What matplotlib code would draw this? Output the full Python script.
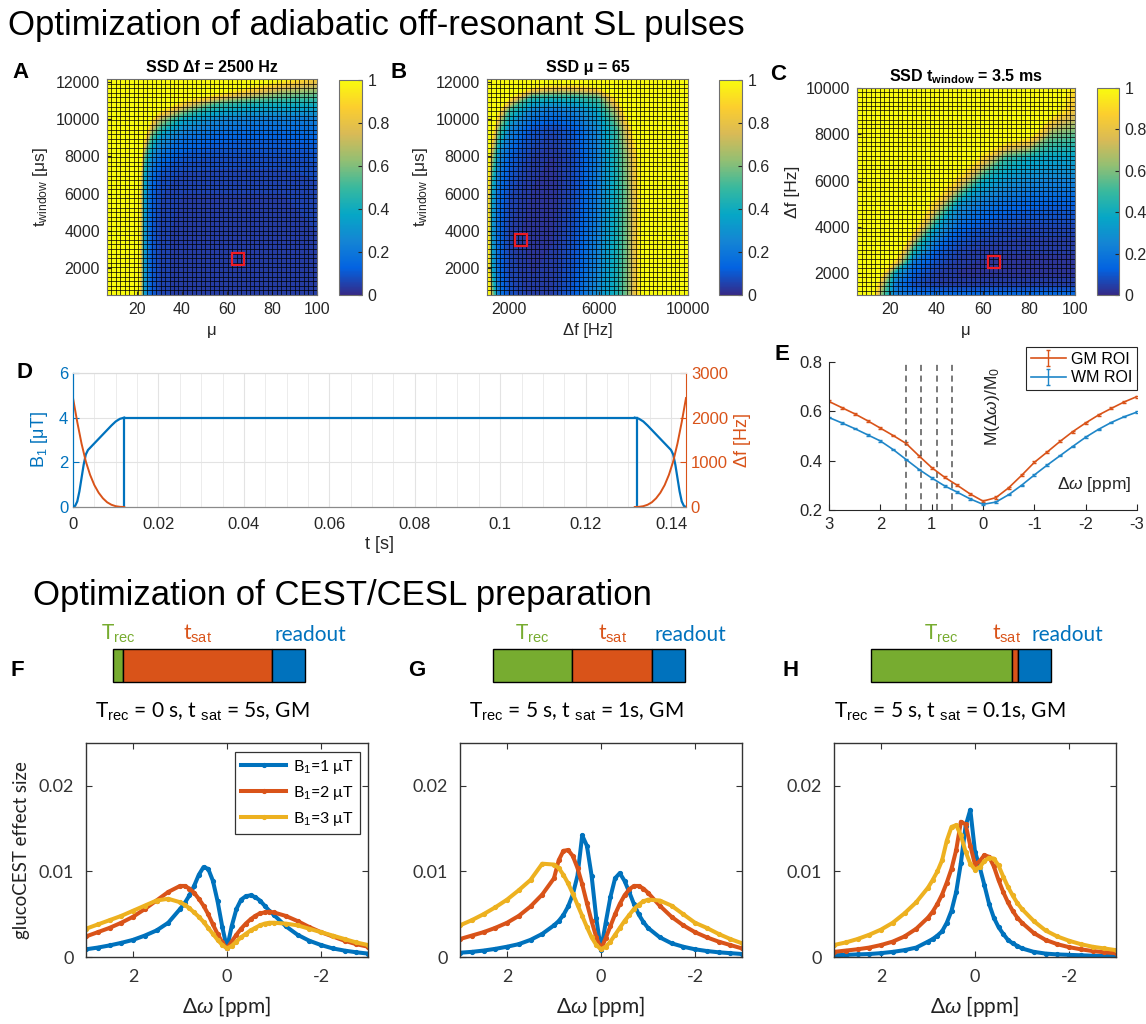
import numpy as np
import matplotlib
matplotlib.use('Agg')
import matplotlib.pyplot as plt
from matplotlib.colors import LinearSegmentedColormap, Normalize
from matplotlib.cm import ScalarMappable

W, H = 1146, 1024
plt.rcParams['font.family'] = ['Liberation Sans', 'DejaVu Sans']
plt.rcParams['mathtext.fontset'] = 'custom'
plt.rcParams['mathtext.rm'] = 'Liberation Sans'
plt.rcParams['mathtext.it'] = 'Liberation Sans:italic'
plt.rcParams['mathtext.bf'] = 'Liberation Sans:bold'
plt.rcParams['mathtext.fallback'] = 'cm'

# ================= DATA =================
# Panel A: SSD over (mu, t_window) at delta f = 2500 Hz (coarse samples read from the map)
a_mu = [6.7, 20, 21.5, 23, 26, 30, 40, 55, 70, 85, 100]
a_tw = [550, 2000, 4000, 6000, 7000, 8000, 9000, 10000, 10800, 11400, 12150]
a_ssd = [
    [1.2, 1.2, 0.85, 0.35, 0.12, 0.06, 0.04, 0.04, 0.04, 0.04, 0.05],
    [1.2, 1.2, 0.85, 0.35, 0.12, 0.06, 0.04, 0.04, 0.04, 0.04, 0.05],
    [1.2, 1.2, 0.85, 0.35, 0.12, 0.06, 0.04, 0.04, 0.04, 0.04, 0.05],
    [1.2, 1.2, 0.85, 0.38, 0.14, 0.07, 0.05, 0.05, 0.05, 0.05, 0.06],
    [1.2, 1.2, 0.90, 0.42, 0.18, 0.09, 0.06, 0.06, 0.06, 0.06, 0.07],
    [1.2, 1.2, 1.10, 0.60, 0.30, 0.17, 0.10, 0.08, 0.08, 0.08, 0.09],
    [1.2, 1.2, 1.20, 1.00, 0.55, 0.32, 0.18, 0.13, 0.12, 0.12, 0.13],
    [1.2, 1.2, 1.20, 1.20, 1.00, 0.70, 0.38, 0.26, 0.22, 0.21, 0.22],
    [1.2, 1.2, 1.20, 1.20, 1.20, 1.20, 0.85, 0.50, 0.42, 0.40, 0.40],
    [1.2, 1.2, 1.20, 1.20, 1.20, 1.20, 1.20, 1.00, 0.78, 0.62, 0.58],
    [1.2, 1.2, 1.20, 1.20, 1.20, 1.20, 1.20, 1.20, 1.20, 1.00, 0.85],
]
a_opt = (65, 2500)

# Panel B: SSD over (delta f, t_window) at mu = 65
b_df = [1000, 1200, 1500, 2000, 3000, 4000, 5000, 6000, 6800, 7300, 7700, 8200, 10000]
b_tw = [550, 2000, 4000, 6000, 8000, 9500, 10500, 11200, 11700, 12150]
b_ssd = [
    [1.2, 0.70, 0.20, 0.08, 0.04, 0.05, 0.12, 0.28, 0.42, 0.60, 0.85, 1.2, 1.2],
    [1.2, 0.40, 0.15, 0.06, 0.03, 0.04, 0.10, 0.25, 0.42, 0.60, 0.85, 1.2, 1.2],
    [1.2, 0.35, 0.14, 0.05, 0.02, 0.03, 0.09, 0.23, 0.42, 0.60, 0.85, 1.2, 1.2],
    [1.1, 0.40, 0.16, 0.07, 0.03, 0.02, 0.08, 0.22, 0.42, 0.60, 0.85, 1.2, 1.2],
    [1.2, 0.70, 0.28, 0.12, 0.05, 0.03, 0.08, 0.22, 0.45, 0.65, 0.90, 1.2, 1.2],
    [1.2, 1.10, 0.60, 0.25, 0.10, 0.07, 0.12, 0.27, 0.50, 0.80, 1.10, 1.2, 1.2],
    [1.2, 1.20, 1.00, 0.50, 0.25, 0.20, 0.25, 0.38, 0.70, 1.10, 1.20, 1.2, 1.2],
    [1.2, 1.20, 1.20, 1.00, 0.48, 0.45, 0.47, 0.55, 1.00, 1.20, 1.20, 1.2, 1.2],
    [1.2, 1.20, 1.20, 1.20, 0.95, 0.85, 0.85, 0.95, 1.20, 1.20, 1.20, 1.2, 1.2],
    [1.2, 1.20, 1.20, 1.20, 1.20, 1.20, 1.20, 1.20, 1.20, 1.20, 1.20, 1.2, 1.2],
]
b_opt = (2500, 3500)

# Panel C: SSD over (mu, delta f) at t_window = 3.5 ms
c_mu = [5.6, 12, 16, 22, 30, 40, 50, 60, 70, 80, 90, 100]
c_df = [1060, 1500, 2000, 2500, 3000, 4000, 5000, 6000, 7000, 8000, 9000, 10000]
c_ssd = [
    [1.2, 1.1, 0.60, 0.22, 0.16, 0.15, 0.15, 0.15, 0.15, 0.15, 0.15, 0.15],
    [1.2, 1.2, 0.75, 0.20, 0.08, 0.05, 0.04, 0.04, 0.04, 0.04, 0.04, 0.04],
    [1.2, 1.2, 1.00, 0.35, 0.12, 0.05, 0.03, 0.03, 0.03, 0.03, 0.03, 0.03],
    [1.2, 1.2, 1.20, 0.90, 0.20, 0.08, 0.04, 0.03, 0.03, 0.03, 0.03, 0.03],
    [1.2, 1.2, 1.20, 1.20, 0.45, 0.12, 0.06, 0.04, 0.035, 0.035, 0.035, 0.035],
    [1.2, 1.2, 1.20, 1.20, 1.05, 0.35, 0.14, 0.09, 0.07, 0.06, 0.06, 0.06],
    [1.2, 1.2, 1.20, 1.20, 1.20, 0.85, 0.30, 0.20, 0.15, 0.13, 0.12, 0.12],
    [1.2, 1.2, 1.20, 1.20, 1.20, 1.20, 0.85, 0.40, 0.30, 0.26, 0.24, 0.24],
    [1.2, 1.2, 1.20, 1.20, 1.20, 1.20, 1.20, 0.90, 0.50, 0.40, 0.36, 0.35],
    [1.2, 1.2, 1.20, 1.20, 1.20, 1.20, 1.20, 1.20, 1.20, 1.05, 0.60, 0.55],
    [1.2, 1.2, 1.20, 1.20, 1.20, 1.20, 1.20, 1.20, 1.20, 1.20, 1.05, 0.80],
    [1.2, 1.2, 1.20, 1.20, 1.20, 1.20, 1.20, 1.20, 1.20, 1.20, 1.20, 0.90],
]
c_opt = (65, 2500)

# Panel D: pulse shape (start ramp; the end ramp is its mirror image)
d_t_b1 = [0, 0.0005, 0.001, 0.0015, 0.002, 0.0025, 0.003, 0.0035, 0.004, 0.005,
          0.006, 0.007, 0.008, 0.009, 0.010, 0.011, 0.012]
d_b1 = [0, 0.05, 0.25, 0.7, 1.3, 1.9, 2.35, 2.55, 2.65, 2.85,
        3.05, 3.25, 3.45, 3.65, 3.83, 3.95, 4.0]
d_t_df = [0, 0.001, 0.002, 0.003, 0.004, 0.005, 0.006, 0.007, 0.008, 0.009, 0.010, 0.011, 0.012]
d_df = [2440, 1900, 1420, 1020, 720, 490, 320, 195, 105, 50, 18, 4, 0]
d_b1_plateau = 4.0
d_t_on, d_t_off, d_t_end = 0.012, 0.132, 0.1435

# Panel E: Z-spectra
e_dw = [3.0, 2.75, 2.5, 2.25, 2.0, 1.75, 1.5, 1.25, 1.0, 0.75, 0.5, 0.25, 0.0,
        -0.25, -0.5, -0.75, -1.0, -1.25, -1.5, -1.75, -2.0, -2.25, -2.5, -2.75, -3.0]
e_gm = [0.640, 0.615, 0.590, 0.562, 0.532, 0.502, 0.470, 0.420, 0.372, 0.333, 0.300, 0.265, 0.236,
        0.250, 0.290, 0.340, 0.393, 0.435, 0.478, 0.518, 0.553, 0.585, 0.612, 0.638, 0.660]
e_wm = [0.575, 0.553, 0.530, 0.505, 0.480, 0.445, 0.405, 0.365, 0.330, 0.298, 0.272, 0.245, 0.223,
        0.232, 0.262, 0.300, 0.342, 0.382, 0.420, 0.458, 0.495, 0.527, 0.555, 0.578, 0.597]
e_gm_err = [0.004, 0.004, 0.004, 0.004, 0.004, 0.004, 0.004, 0.004, 0.004, 0.004, 0.004, 0.004, 0.005,
            0.005, 0.004, 0.004, 0.004, 0.004, 0.004, 0.004, 0.004, 0.004, 0.004, 0.004, 0.004]
e_wm_err = [0.003, 0.003, 0.003, 0.003, 0.003, 0.003, 0.003, 0.003, 0.003, 0.003, 0.003, 0.003, 0.004,
            0.004, 0.003, 0.003, 0.003, 0.003, 0.003, 0.003, 0.003, 0.003, 0.003, 0.003, 0.003]
e_dashed = [1.5, 1.2, 0.9, 0.6]

# Panels F-H: glucoCEST effect size (values in units of 1e-3)
fh_dw = [3.0, 2.75, 2.5, 2.25, 2.0, 1.75, 1.5, 1.25, 1.0, 0.9, 0.8, 0.7, 0.6, 0.5, 0.4, 0.3, 0.2, 0.1, 0.0,
         -0.1, -0.2, -0.3, -0.4, -0.5, -0.6, -0.7, -0.8, -0.9, -1.0, -1.25, -1.5, -1.75, -2.0, -2.25, -2.5, -2.75, -3.0]
f_b1_1 = [0.9, 1.1, 1.35, 1.65, 2.0, 2.5, 3.1, 4.0, 5.6, 6.3, 7.2, 8.3, 9.6, 10.5, 10.3, 8.9, 6.5, 3.5, 1.0,
          3.6, 5.6, 6.7, 7.1, 7.2, 7.0, 6.6, 6.0, 5.4, 4.9, 3.6, 2.6, 1.9, 1.4, 1.0, 0.75, 0.55, 0.4]
f_b1_2 = [2.4, 2.9, 3.4, 4.0, 4.7, 5.6, 6.6, 7.6, 8.3, 8.3, 8.0, 7.5, 6.8, 6.0, 5.0, 3.8, 2.7, 1.7, 1.0,
          1.8, 2.6, 3.3, 3.9, 4.4, 4.8, 5.1, 5.2, 5.3, 5.2, 4.8, 4.2, 3.5, 2.9, 2.4, 1.9, 1.5, 1.2]
f_b1_3 = [3.3, 3.8, 4.3, 4.8, 5.4, 6.0, 6.6, 6.8, 6.4, 6.1, 5.7, 5.2, 4.7, 4.1, 3.4, 2.7, 2.0, 1.4, 1.0,
          1.3, 1.8, 2.3, 2.7, 3.1, 3.4, 3.7, 3.9, 4.0, 4.0, 3.9, 3.7, 3.3, 2.9, 2.5, 2.1, 1.7, 1.4]
g_b1_1 = [0.5, 0.6, 0.75, 0.95, 1.2, 1.5, 2.0, 2.7, 3.7, 4.2, 4.9, 5.9, 7.3, 9.5, 14.2, 13.0, 9.5, 4.5, 0.8,
          4.0, 7.0, 9.2, 9.8, 8.9, 7.6, 6.2, 5.0, 4.1, 3.4, 2.3, 1.6, 1.2, 0.9, 0.7, 0.55, 0.45, 0.35]
g_b1_2 = [2.1, 2.5, 2.9, 3.4, 4.0, 4.8, 5.9, 7.3, 9.2, 11.3, 12.4, 12.5, 11.8, 10.4, 8.5, 6.3, 4.2, 2.3, 0.9,
          2.2, 3.6, 5.0, 6.2, 7.2, 7.9, 8.3, 8.3, 8.0, 7.5, 6.0, 4.7, 3.7, 2.9, 2.3, 1.8, 1.4, 1.0]
g_b1_3 = [3.7, 4.3, 5.0, 5.8, 6.7, 7.8, 9.0, 10.9, 10.8, 10.4, 9.6, 8.6, 7.4, 6.1, 4.8, 3.5, 2.3, 1.4, 0.9,
          1.2, 1.8, 2.6, 3.4, 4.2, 4.9, 5.6, 6.1, 6.5, 6.7, 6.6, 6.0, 5.0, 4.0, 3.4, 2.7, 2.1, 1.6]
h_b1_1 = [0.2, 0.25, 0.3, 0.35, 0.45, 0.6, 0.8, 1.1, 1.8, 2.1, 2.5, 3.0, 4.0, 5.4, 7.6, 11.0, 15.3, 17.2, 12.3,
          10.5, 8.4, 6.2, 4.6, 3.5, 2.7, 2.0, 1.6, 1.3, 1.0, 0.6, 0.4, 0.3, 0.25, 0.2, 0.15, 0.12, 0.1]
h_b1_2 = [0.6, 0.75, 0.9, 1.1, 1.4, 1.8, 2.4, 3.3, 4.6, 5.3, 6.2, 7.3, 8.7, 10.3, 12.5, 15.8, 15.5, 13.0, 10.8,
          11.2, 11.9, 11.7, 10.6, 9.0, 7.6, 6.4, 5.4, 4.6, 4.0, 2.8, 2.0, 1.5, 1.15, 0.9, 0.7, 0.55, 0.45]
h_b1_3 = [1.4, 1.7, 2.1, 2.6, 3.2, 4.0, 5.1, 6.4, 8.1, 9.0, 10.0, 11.3, 13.6, 15.2, 15.4, 14.2, 12.3, 10.9, 10.2,
          10.5, 11.2, 11.6, 11.5, 10.7, 9.4, 8.2, 7.2, 6.3, 5.6, 4.2, 3.1, 2.4, 1.9, 1.5, 1.2, 1.0, 0.8]
b1_labels = ['1', '2', '3']

# timing-bar segments (schematic lengths, readout = 1)
bar_segments = {'F': [0.3, 4.5, 1.0], 'G': [2.4, 2.4, 1.0], 'H': [4.27, 0.18, 1.0]}
subtitles = {'F': ('0 s', '5s'), 'G': ('5 s', '1s'), 'H': ('5 s', '0.1s')}

# ================= STYLE =================
BLUE, ORANGE, YELLOW, GREEN = '#0072BD', '#D95319', '#EDB120', '#77AC30'
DARK = '#262626'
parula = LinearSegmentedColormap.from_list(
    'parula', ['#352a87', '#0363e1', '#1485d4', '#06a7c6', '#38b99e',
               '#92bf73', '#d9ba56', '#fcce2e', '#f9fb0e'])
parula.set_over('#f9fb0e')
parula.set_under('#352a87')
BOT = ['Lato', 'DejaVu Sans']

fig = plt.figure(figsize=(W / 100, H / 100), dpi=100)


def box(l, t, r, b):
    return fig.add_axes([l / W, 1 - b / H, (r - l) / W, (b - t) / H])


def ftext(x, y, s, **kw):
    return fig.text(x / W, 1 - y / H, s, **kw)


def heat(ax, xs, ys, z, xlim, ylim, ncol, nrow):
    ax.contourf(xs, ys, np.array(z), levels=np.linspace(0, 1, 61), cmap=parula, extend='both')
    for v in np.linspace(xlim[0], xlim[1], ncol + 1):
        ax.axvline(v, color='k', lw=0.6, alpha=0.85)
    for v in np.linspace(ylim[0], ylim[1], nrow + 1):
        ax.axhline(v, color='k', lw=0.6, alpha=0.85)
    ax.set_xlim(xlim)
    ax.set_ylim(ylim)
    for sp in ax.spines.values():
        sp.set_color('#707070')
        sp.set_linewidth(0.8)
    ax.tick_params(direction='in', length=3, labelsize=11.5, colors=DARK, pad=5)


def cbar(l, t, r, b):
    cax = box(l, t, r, b)
    cb = fig.colorbar(ScalarMappable(norm=Normalize(0, 1), cmap=parula), cax=cax,
                      ticks=[0, 0.2, 0.4, 0.6, 0.8, 1])
    cb.set_ticklabels(['0', '0.2', '0.4', '0.6', '0.8', '1'])
    cb.outline.set_edgecolor('#707070')
    cb.outline.set_linewidth(0.8)
    cax.tick_params(direction='in', length=3, labelsize=11.5, colors=DARK, pad=4)


# ---- titles
ftext(8, 26, 'Optimization of adiabatic off-resonant SL pulses', fontsize=25, va='center', color='black')
ftext(33, 596, 'Optimization of CEST/CESL preparation', fontsize=25, va='center', color='black')

# ---- A
axA = box(107, 79, 317, 295)
heat(axA, a_mu, a_tw, a_ssd, (6.7, 100), (550, 12150), 47, 47)
axA.plot(*a_opt, 's', mfc='none', mec='#ee1c25', ms=9, mew=1.6)
axA.set_xticks([20, 40, 60, 80, 100])
axA.set_yticks([2000, 4000, 6000, 8000, 10000, 12000])
axA.set_title('SSD Δf = 2500 Hz', fontweight='bold', fontsize=11.5, pad=5, color='black')
axA.set_xlabel('μ', fontsize=12, color=DARK)
axA.set_ylabel(r't$_{\rm window}$ [μs]', fontsize=12.5, color=DARK)
cbar(339, 80, 362, 295)
ftext(12, 73, 'A', fontsize=16, fontweight='bold', va='center')

# ---- B
axB = box(487, 79, 688, 295)
heat(axB, b_df, b_tw, b_ssd, (1000, 10000), (550, 12150), 46, 47)
axB.plot(*b_opt, 's', mfc='none', mec='#ee1c25', ms=9, mew=1.6)
axB.set_xticks([2000, 6000, 10000])
axB.set_yticks([2000, 4000, 6000, 8000, 10000, 12000])
axB.set_title('SSD μ = 65', fontweight='bold', fontsize=11.5, pad=5, color='black')
axB.set_xlabel('Δf [Hz]', fontsize=12, color=DARK)
axB.set_ylabel(r't$_{\rm window}$ [μs]', fontsize=12.5, color=DARK)
cbar(719, 80, 742, 295)
ftext(390, 73, 'B', fontsize=16, fontweight='bold', va='center')

# ---- C
axC = box(857, 88, 1075, 295)
heat(axC, c_mu, c_df, c_ssd, (5.6, 100), (1060, 10000), 48, 46)
axC.plot(*c_opt, 's', mfc='none', mec='#ee1c25', ms=9, mew=1.6)
axC.set_xticks([20, 40, 60, 80, 100])
axC.set_yticks([2000, 4000, 6000, 8000, 10000])
axC.set_title(r'SSD t$_{\mathbf{window}}$ = 3.5 ms', fontweight='bold', fontsize=11.5, pad=5, color='black')
axC.set_xlabel('μ', fontsize=12, color=DARK)
axC.set_ylabel('Δf [Hz]', fontsize=12.5, color=DARK)
cbar(1097, 88, 1119, 295)
ftext(770, 75, 'C', fontsize=16, fontweight='bold', va='center')

# ---- D
axD = box(73, 373, 686, 507)
axD2 = axD.twinx()
t_b1 = np.array(d_t_b1)
t_df = np.array(d_t_df)
axD.plot(t_b1, d_b1, color=BLUE, lw=1.6)
axD.plot(d_t_end - t_b1, d_b1, color=BLUE, lw=1.6)
axD.plot([d_t_on, d_t_off], [d_b1_plateau, d_b1_plateau], color=BLUE, lw=1.6)
axD.plot([d_t_on, d_t_on], [0, d_b1_plateau], color=BLUE, lw=1.6)
axD.plot([d_t_off, d_t_off], [0, d_b1_plateau], color=BLUE, lw=1.6)
axD2.plot(t_df, d_df, color=ORANGE, lw=1.4)
axD2.plot(d_t_end - t_df, d_df, color=ORANGE, lw=1.4)
axD.set_xlim(0, d_t_end)
axD.set_ylim(0, 6)
axD2.set_ylim(0, 3000)
axD.set_xticks([0, 0.02, 0.04, 0.06, 0.08, 0.1, 0.12, 0.14])
axD.set_xticklabels(['0', '0.02', '0.04', '0.06', '0.08', '0.1', '0.12', '0.14'])
axD.set_xticks(np.arange(0, 0.1436, 0.005), minor=True)
axD.set_yticks([0, 2, 4, 6])
axD2.set_yticks([0, 1000, 2000, 3000])
axD.grid(True, which='major', color='#e3e3e3', lw=0.8)
axD.grid(True, which='minor', axis='x', color='#ececec', lw=0.7)
axD.set_axisbelow(True)
axD.tick_params(axis='x', which='both', direction='in', colors=DARK, labelsize=12, length=0, pad=7)
axD.tick_params(axis='y', direction='in', colors=BLUE, labelsize=12, length=4)
axD2.tick_params(axis='y', direction='in', colors=ORANGE, labelsize=12, length=4)
axD.spines['left'].set_color(BLUE)
axD2.spines['left'].set_color(BLUE)
axD2.spines['right'].set_color(ORANGE)
axD2.spines['bottom'].set_color('#8a8a8a')
axD.spines['bottom'].set_color('#8a8a8a')
axD.spines['top'].set_color('#dcdcdc')
axD2.spines['top'].set_color('#dcdcdc')
axD.spines['right'].set_visible(False)
axD.set_ylabel(r'B$_1$ [μT]', color=BLUE, fontsize=13, labelpad=6)
axD2.set_ylabel('Δf [Hz]', color=ORANGE, fontsize=13, labelpad=4)
axD.set_xlabel('t [s]', color=DARK, fontsize=13, labelpad=3)
ftext(17, 372, 'D', fontsize=16, fontweight='bold', va='center')

# ---- E
axE = box(829, 362, 1137, 510)
axE.errorbar(e_dw, e_gm, yerr=e_gm_err, color=ORANGE, lw=1.2, elinewidth=1.0, capsize=1.5, label='GM ROI')
axE.errorbar(e_dw, e_wm, yerr=e_wm_err, color='#1f86c8', lw=1.2, elinewidth=1.0, capsize=1.5, label='WM ROI')
for xv in e_dashed:
    axE.axvline(xv, color='#555555', ls=(0, (4, 3)), lw=1.1)
axE.set_xlim(3, -3)
axE.set_ylim(0.2, 0.8)
axE.set_xticks([3, 2, 1, 0, -1, -2, -3])
axE.set_xticklabels(['3', '2', '1', '0', '-1', '-2', '-3'])
axE.set_yticks([0.2, 0.4, 0.6, 0.8])
axE.set_yticklabels(['0.2', '0.4', '0.6', '0.8'])
axE.spines['top'].set_visible(False)
axE.spines['right'].set_visible(False)
for sp in ['left', 'bottom']:
    axE.spines[sp].set_color(DARK)
axE.tick_params(direction='in', colors=DARK, labelsize=12, length=4, pad=5)
axE.text(0.53, 0.70, r'M(Δ$\omega$)/M$_0$', transform=axE.transAxes, rotation=90,
         ha='center', va='center', fontsize=12.5, color=DARK)
axE.text(0.86, 0.17, r'Δ$\omega$ [ppm]', transform=axE.transAxes,
         ha='center', va='center', fontsize=12.5, color=DARK)
leg = axE.legend(loc='upper right', bbox_to_anchor=(1.0, 1.10), borderaxespad=0, fontsize=11.5,
                 fancybox=False, framealpha=1, edgecolor=DARK, handlelength=2.2,
                 borderpad=0.3, labelspacing=0.2, handletextpad=0.3)
leg.get_frame().set_linewidth(0.8)
ftext(775, 355, 'E', fontsize=16, fontweight='bold', va='center')

# ---- F, G, H
panels = [
    ('F', (86, 743, 368, 957), (113, 649, 305, 682), [f_b1_1, f_b1_2, f_b1_3], 10),
    ('G', (460, 743, 742, 957), (493, 649, 685, 682), [g_b1_1, g_b1_2, g_b1_3], 408),
    ('H', (834, 743, 1116, 957), (871, 649, 1051, 682), [h_b1_1, h_b1_2, h_b1_3], 783),
]
dw = np.array(fh_dw)
for name, abox, bbox, series, lx in panels:
    ax = box(*abox)
    for vals, col, lab in zip(series, [BLUE, ORANGE, YELLOW], b1_labels):
        ax.plot(dw, np.array(vals) * 1e-3, '.-', color=col, lw=2.9, ms=5.5,
                label=r'B$_{1}$=' + lab + ' μT')
    ax.set_xlim(3, -3)
    ax.set_ylim(0, 0.025)
    ax.set_xticks([2, 0, -2])
    ax.set_xticklabels(['2', '0', '-2'])
    ax.set_yticks([0, 0.01, 0.02])
    ax.set_yticklabels(['0', '0.01', '0.02'])
    ax.tick_params(direction='in', top=True, right=True, length=4, labelsize=13,
                   colors='#333333', labelfontfamily='Lato', pad=9)
    for sp in ax.spines.values():
        sp.set_color('#333333')
        sp.set_linewidth(1.0)
    ax.set_xlabel(r'Δ$\omega$ [ppm]', fontsize=15, family=BOT, color='#222222', labelpad=6)
    if name == 'F':
        ax.set_ylabel('glucoCEST effect size', fontsize=13.5, family=BOT, color='#222222', labelpad=6)
        lg = ax.legend(loc='upper right', bbox_to_anchor=(0.97, 0.96), borderaxespad=0,
                       prop={'family': BOT, 'size': 11.5}, fancybox=False, framealpha=1,
                       edgecolor='#333333', handlelength=2.8, borderpad=0.4, labelspacing=0.5,
                       handletextpad=0.4)
        lg.get_frame().set_linewidth(0.9)
    trec, tsat = subtitles[name]
    cx = (abox[0] + abox[2]) / 2 - 25
    ftext(cx, 712, r'T$_{\rm rec}$ = ' + trec + r', t $_{\rm sat}$ = ' + tsat + ', GM',
          fontsize=15, family=BOT, ha='center', va='center', color='black')
    ftext(lx, 670, name, fontsize=16, fontweight='bold', va='center')

    # timing bar
    segs = bar_segments[name]
    bx = box(*bbox)
    lefts = np.concatenate([[0], np.cumsum(segs)[:-1]])
    bx.barh(0, segs, left=lefts, height=1.0, color=[GREEN, ORANGE, BLUE],
            edgecolor='black', lw=1.0, clip_on=False)
    bx.set_xlim(0, sum(segs))
    bx.set_ylim(-0.5, 0.5)
    bx.axis('off')
    lab_kw = dict(textcoords='offset points', va='bottom', fontsize=15, family=BOT)
    bx.annotate(r'T$_{\rm rec}$', xy=(lefts[0] + segs[0] / 2, 0.5), xytext=(0, 3),
                ha='center', color=GREEN, **lab_kw)
    if name == 'H':
        bx.annotate(r't$_{\rm sat}$', xy=(lefts[1] + segs[1], 0.5), xytext=(2, 3),
                    ha='right', color=ORANGE, **lab_kw)
        bx.annotate('readout', xy=(lefts[2], 0.5), xytext=(10, 3),
                    ha='left', color=BLUE, **lab_kw)
    else:
        bx.annotate(r't$_{\rm sat}$', xy=(lefts[1] + segs[1] / 2, 0.5), xytext=(0, 3),
                    ha='center', color=ORANGE, **lab_kw)
        bx.annotate('readout', xy=(lefts[2], 0.5), xytext=(2, 3),
                    ha='left', color=BLUE, **lab_kw)

fig.savefig('out.png', dpi=100, facecolor='white')
